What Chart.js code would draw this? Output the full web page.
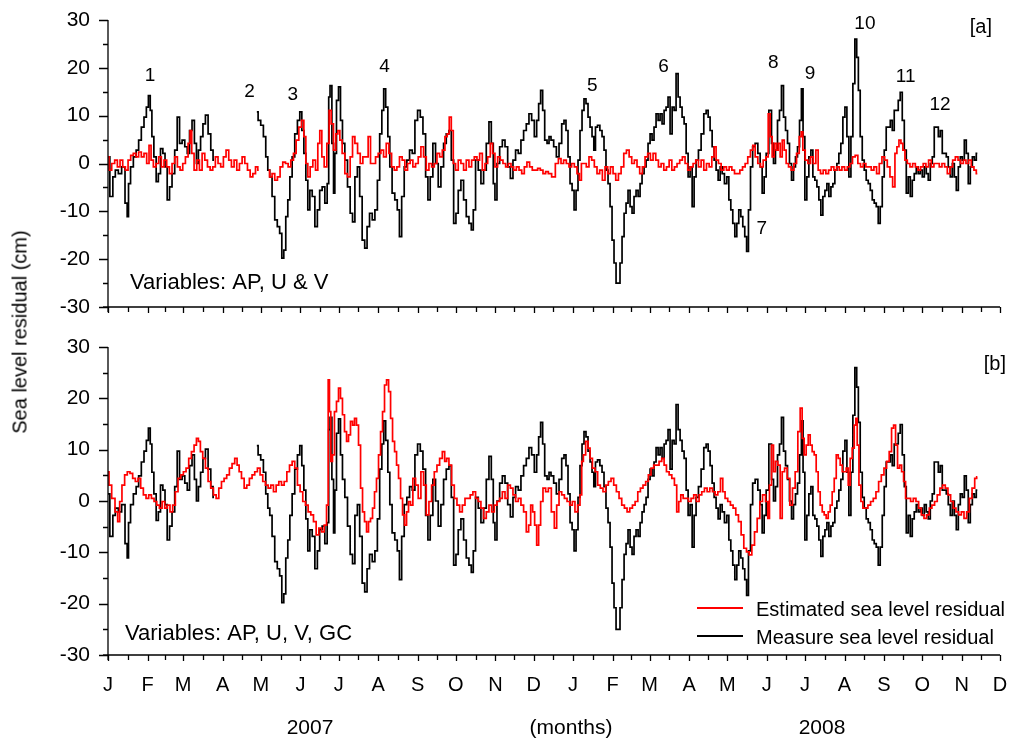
<!DOCTYPE html>
<html>
<head>
<meta charset="utf-8">
<title>Sea level residual</title>
<script src="https://cdn.jsdelivr.net/npm/chart.js@4.4.0/dist/chart.umd.min.js"></script>
<style>
  body { margin: 0; background: #fff; }
  #page { position: relative; width: 1010px; height: 744px; font-family: "Liberation Sans", Arial, sans-serif; color: #000; }
  #panelA { position: absolute; left: 0; top: 0; }
  #panelB { position: absolute; left: 0; top: 330px; }
  .label { position: absolute; white-space: nowrap; transform: translate(-50%, -50%); font-size: 21px; }
  #yTitle { left: 20px; top: 332px; font-size: 20px; transform: translate(-50%, -50%) rotate(-90deg); }
</style>
</head>
<body>
<div id="page">
  <canvas id="panelA" width="1010" height="330"></canvas>
  <canvas id="panelB" width="1010" height="414"></canvas>
  <div class="label" id="yTitle">Sea level residual (cm)</div>
  <div class="label" style="left:310px; top:727px;">2007</div>
  <div class="label" style="left:571px; top:727px;">(months)</div>
  <div class="label" style="left:822px; top:727px;">2008</div>
</div>
<script>
// days since 1 Jan 2007
const monthStarts = [0, 31, 59, 90, 120, 151, 181, 212, 243, 273, 304, 334,
  365, 396, 425, 456, 486, 517, 547, 578, 609, 639, 670, 700];
const monthLetters = ['J', 'F', 'M', 'A', 'M', 'J', 'J', 'A', 'S', 'O', 'N', 'D',
  'J', 'F', 'M', 'A', 'M', 'J', 'J', 'A', 'S', 'O', 'N', 'D'];

// [day, cm]; null marks missing records
const measured = [
  [0,1.4],[2.9,-6.9],[4.7,-2.8],[6.8,-1.4],[9.4,-2.1],[12,-0.7],[14.7,-8.3],[15.4,-11.1],[16.8,-4.2],[18.6,-0.7],
  [21.2,1.4],[23,2.8],[25.1,4.9],[27.2,7.6],[29.3,9.7],[30.9,11.8],[32.5,14.2],[33.8,11.1],[35.1,5.6],[36.9,1.4],
  [38.7,-3.8],[40.3,-2.1],[42.1,3.1],[44,2.1],[45.5,-0.7],[47.4,-7.6],[49.2,-4.9],[51.3,-2.1],[53.4,2.8],[55.2,9.7],
  [57.1,4.2],[59.2,4.9],[61.3,3.5],[63.1,2.1],[64.9,6.9],[67,9],[68.6,4.2],[70.2,0],[71.7,2.8],[73.6,5.6],
  [75.4,8.3],[77.5,10.1],[79.6,6.2],[81.7,2.8],[83.2,0.7],[90,null],
  [116.8,10.8],[118.8,9],[120.9,8],[123,5.6],[124.6,1.4],[126.2,-1.4],[127.7,-2.8],[129.8,-6.9],[131.9,-11.8],[133.8,-13.2],
  [135.6,-14.6],[137.2,-19.8],[138.7,-18.1],[140.3,-11.1],[141.9,-7.6],[143.5,-2.8],[145.5,1.4],[147.6,6.2],[149.7,9],[151.3,10.8],
  [152.9,6.9],[154.5,2.1],[156,-3.5],[157.6,-9.7],[159.2,-5.6],[161.3,-6.9],[163.4,-13.2],[165.2,-9.7],[167,-5.6],[169.1,-4.9],
  [171.2,-8.3],[172.8,-4.2],[173.6,13.9],[174.9,16.3],[176.5,4.2],[177.5,-6.2],[178.5,2.1],[180.1,13.2],[181.7,16],[183.2,9],
  [184.8,4.2],[186.9,0.7],[189,-4.9],[191.1,-10.4],[192.7,-12.2],[194.8,-2.8],[196.6,-0.7],[198.4,-6.9],[200.5,-16],[202.4,-17.7],
  [204.2,-13.2],[206.3,-10.4],[208.4,-11.8],[210.5,-9.7],[212.3,-3.5],[214.1,6.2],[215.7,11.1],[217,15.6],[218.8,11.8],[220.4,5.6],
  [221.9,-0.7],[224,-6.2],[226.1,-7.6],[227.9,-9.7],[229.5,-15.3],[231.4,-6.9],[233.5,-0.7],[235.6,0.7],[237.7,2.8],[239.8,2.1],
  [241.9,9],[244,11.1],[246.1,9.7],[248.2,6.2],[250.3,-2.8],[251.8,-7.6],[253.9,-2.8],[256,4.2],[258.1,0],[260.2,-4.9],
  [262.3,-0.7],[264.4,4.2],[266.5,6.2],[268.6,6.9],[270.2,0.7],[272.3,-12.5],[273.8,-10.4],[275.9,-5.6],[278,-3.5],[280.1,-7.6],
  [282.2,-11.1],[284.3,-12.5],[285.9,-13.9],[287.4,-9.7],[289.5,0.7],[291.6,-1.4],[293.7,-4.2],[295.8,-1.4],[297.9,4.2],[300,8.7],
  [301.6,4.2],[303.1,-4.2],[304.2,-7.6],[306.3,0],[308.4,3.5],[310.5,4.9],[312.6,3.5],[314.7,-0.7],[316.8,-3.1],[318.8,0.7],
  [320.9,2.8],[323,2.1],[325.1,4.9],[327.2,6.9],[329.3,8.3],[331.4,10.4],[333.5,9],[335.6,5.6],[337.2,9],[338.7,12.5],
  [340.3,15.3],[341.9,11.1],[343.5,4.9],[345.6,4.2],[346.6,5.6],[348.7,4.9],[350.8,3.5],[352.9,1.4],[355,4.2],[357.1,8.3],
  [358.6,9],[360.2,6.9],[361.8,1.4],[363.4,-4.2],[365,-5.6],[366.5,-9.7],[368.1,-5.6],[369.6,0.7],[371.2,6.9],[372.8,11.1],
  [374.3,13.5],[375.9,12.5],[377.5,9.7],[379.1,7.6],[380.6,5.6],[381.9,2.8],[383.2,7.6],[385.1,8],[386.9,6.9],[388.5,5.6],
  [390,2.8],[391.6,-1.4],[393.2,-4.2],[394.8,-9],[396.3,-16],[397.9,-20.8],[399.5,-25],[401,-25],[402.6,-20.8],[404.2,-15.3],
  [405.8,-10.4],[407.3,-8.3],[408.9,-5.6],[410.5,-9],[412,-10.4],[413.6,-6.9],[415.2,-5.6],[416.8,-6.9],[418.3,-4.2],[419.9,-2.1],
  [421.5,-0.7],[423,0.7],[424.6,4.2],[426.2,6.2],[427.7,4.9],[429.3,7.6],[430.9,10.4],[432.5,9],[434,10.4],[435.6,8.3],
  [437.2,11.1],[438.7,11.8],[440.3,13.9],[441.9,6.2],[443.5,11.8],[445,11.1],[446.6,18.8],[448.2,13.9],[449.7,11.8],[451.3,9.7],
  [452.9,8.3],[454.5,2.1],[456,-2.8],[457.6,-0.7],[459.2,-9],[460.7,-2.8],[462.3,0.7],[464.4,2.8],[466.5,6.2],[468.6,10.4],
  [470.2,11.1],[471.7,9.7],[473.3,6.9],[474.9,3.5],[476.4,0.7],[478,-1.4],[479.6,-3.5],[481.2,-0.7],[482.7,-2.1],[484.8,-4.2],
  [486.4,-2.8],[488,-7.6],[489.5,-9.7],[491.1,-12.5],[492.7,-15.3],[494.2,-12.5],[495.8,-9.7],[497.4,-11.1],[498.9,-13.2],[500.5,-15.3],
  [501.8,-18.4],[503.4,-9.7],[505,-0.7],[506.8,3.5],[508.9,4.2],[511,2.1],[512.6,-0.7],[514.1,-6.2],[515.7,-2.8],[517.3,2.1],
  [519.9,11.1],[521.5,4.2],[523,0],[524.6,2.8],[526.2,9],[527.7,11.1],[529.3,16.3],[530.9,9.7],[532.5,6.9],[534,4.2],
  [535.6,0],[537.2,-3.5],[538.7,-0.7],[540.3,1.4],[541.9,3.5],[543.5,9],[544.8,15.6],[546.1,5.6],[547.6,-7.6],[549.2,-2.8],
  [550.8,1.4],[552.4,2.8],[553.9,-2.8],[555.5,-3.5],[557.1,-4.9],[558.6,-7.6],[560.2,-10.8],[561.8,-6.9],[563.4,-5.6],[564.9,-4.2],
  [566.5,-6.9],[568.1,-4.9],[569.6,-4.2],[571.2,-1.4],[572.8,0],[574.3,2.1],[575.9,4.2],[577.5,9.7],[579.1,11.8],[580.6,5.6],
  [582.2,-2.8],[583.8,5.6],[585.3,16.7],[586.9,26],[588.2,22.2],[589.5,15.3],[591.1,5.6],[592.7,0.7],[594.2,-1.4],[595.8,-3.5],
  [597.4,-4.2],[599,-5.6],[600.5,-7.6],[602.1,-8.3],[603.7,-9],[605.2,-12.5],[606.8,-9],[608.4,-2.8],[609.9,2.8],[611.5,7.6],
  [613.1,7.6],[614.7,9],[616.2,6.9],[617.8,11.1],[619.4,11.1],[620.9,13.2],[622.5,14.9],[624.1,9],[625.7,2.8],[627.2,-6.2],
  [628.8,-2.8],[630.4,-6.9],[631.9,-3.5],[633.5,-2.1],[635.1,-0.7],[636.6,-2.1],[638.2,-1.4],[639.8,-2.8],[641.4,-0.7],[642.9,-2.1],
  [644.5,-3.5],[646.1,0],[647.6,1.4],[649.2,7.6],[650.8,7.6],[652.4,5.6],[653.9,6.9],[655.5,2.1],[657.1,2.1],[658.6,1.4],
  [660.2,-0.7],[661.8,-2.8],[663.4,0],[664.9,-2.8],[666.5,-5.6],[668.1,-0.7],[669.6,1.4],[671.2,0.7],[672.8,4.9],[674.3,2.1],
  [675.9,-4.2],[677.5,-0.7],[679.1,1.4],[680.6,0.7],[682.2,2.1]
];

// model with air pressure and wind components only
const estimatedA = [
  [0,1.4],[1.6,-1.4],[4.2,0],[6.3,0.7],[8.4,-0.7],[10.5,0.7],[12.6,-0.7],[14.7,-1.4],[16.8,0.7],[18.8,1.7],
  [20.9,2.1],[23,1.4],[25.1,2.4],[27.2,1.4],[29.3,2.1],[31.4,0],[33,3.8],[34.6,0.7],[36.6,-0.7],[38.7,0],
  [40.8,1.4],[42.9,-0.7],[45,0.7],[47.1,-0.7],[49.2,-2.1],[51.3,0],[53.4,1.4],[55.5,-0.7],[57.6,-1.4],[59.7,0],
  [61.8,1.4],[63.9,4.2],[64.9,6.9],[66.5,2.1],[68.6,-1.4],[70.7,0.7],[72.8,-1.4],[74.9,2.1],[77,0.7],[79.1,-0.7],
  [81.2,-1.4],[83.2,-0.7],[85.3,1.4],[87.4,0],[89.5,-0.7],[91.6,1.4],[93.7,2.8],[95.8,0.7],[97.9,-0.7],[100,0.7],
  [102.1,-1.4],[104.2,0],[106.3,1.4],[108.4,0],[110.5,-1.4],[112.6,-2.8],[114.7,-2.1],[116.8,-0.7],[118.3,-1.4],[121,null],
  [125.9,-1.4],[127.7,-2.8],[129.8,-2.1],[131.9,-3.5],[134,-2.8],[136.1,-0.7],[138.2,0.3],[140.3,0],[142.4,-0.7],[144.5,0.7],
  [146.6,2.1],[148.7,4.9],[150.8,7.6],[152.9,9],[154.5,5.6],[156,0],[157.6,-2.8],[159.7,-0.7],[161.8,0.7],[163.9,-1.4],
  [165.4,4.2],[167,6.9],[168.6,1.4],[170.7,-0.7],[172.8,4.2],[174.3,11.1],[175.9,8.3],[178,2.8],[179.6,6.2],[181.2,6.9],
  [182.7,4.9],[184.8,2.1],[186.9,-2.1],[189,-2.8],[191.1,1.4],[192.7,5.6],[194.8,4.2],[196.9,2.1],[199,0],[201,1.4],
  [203.1,1.4],[205.2,5.6],[206.8,0],[208.9,0],[211,1.4],[213.1,2.1],[215.2,2.8],[217.3,1.4],[219.4,4.2],[221.5,2.1],
  [223.6,-0.7],[225.7,-1.4],[227.7,-0.7],[229.8,1.4],[231.9,0.7],[234,-1.4],[236.1,0],[238.2,0.7],[240.3,-0.7],[242.4,0],
  [244.5,1.4],[246.6,3.5],[248.7,1.4],[250.8,-1.4],[252.9,0],[255,-0.7],[257.1,0],[259.2,2.1],[261.3,1.4],[263.4,2.8],
  [265.4,5.6],[267,6.2],[268.6,9.7],[270.2,6.9],[271.7,0],[273.8,-1.4],[275.9,0.7],[278,0],[280.1,-1.4],[282.2,0.7],
  [284.3,-0.7],[286.4,0.7],[288.5,1.4],[290.6,0.7],[292.7,2.1],[294.8,-1.4],[296.9,0],[299,1.4],[301,4.2],[302.6,2.1],
  [304.7,-0.7],[306.8,1.4],[308.9,0.7],[311,0],[313.1,-0.7],[315.2,0],[317.3,-0.7],[319.4,-1.4],[321.5,-0.7],[323.6,-1.4],
  [325.7,-2.1],[327.7,-0.7],[329.8,0.3],[331.9,-0.7],[334,-1.4],[336.1,-1.4],[338.2,-1],[340.3,-1.4],[342.4,-2.1],[344.5,-1.7],
  [346.6,-2.1],[349.7,-2.8],[352.4,0],[354.5,1],[356.5,0],[358.6,0.7],[360.7,0],[362.8,-0.7],[364.9,0],[367,-0.7],
  [369.1,-2.1],[370.7,-3.5],[372.3,0],[374.3,0],[376.4,-0.7],[378.5,1.4],[380.6,0.7],[382.7,-0.7],[384.8,-2.1],[386.9,-1.4],
  [389,-3.5],[391.1,-0.7],[393.2,-2.1],[395.3,-0.7],[397.4,-2.1],[399.5,-3.5],[401.6,-2.1],[403.7,-0.7],[405.8,2.1],[407.9,2.8],
  [410,1.4],[412,0],[414.1,0.7],[416.2,-0.7],[418.3,-2.1],[420.4,-0.7],[422.5,1.4],[424.6,2.1],[426.7,0.7],[428.8,2.1],
  [430.9,0.7],[433,-0.7],[435.1,0],[437.2,-1.4],[439.3,-0.7],[441.4,0.7],[443.5,-1.4],[445.5,-0.7],[447.6,0],[449.7,0.7],
  [451.8,1.4],[453.9,0],[456,-1.4],[458.1,-0.7],[460.2,0],[462.3,0.7],[464.4,-0.7],[466.5,0.7],[468.6,-1.4],[470.7,0],
  [472.8,-0.7],[474.9,1.4],[476.4,3.5],[478,0.7],[480.1,0],[482.2,-1.4],[484.3,-0.7],[486.4,-1.4],[488.5,-0.7],[490.6,-1.4],
  [492.7,-2.1],[494.8,-2.1],[496.9,-1.4],[499,-0.7],[501,0],[503.1,1.4],[505.2,2.8],[506.8,3.8],[508.9,1.4],[511,0],
  [513.1,-0.7],[515.2,0.7],[517.3,1.4],[518.9,10.4],[520.4,5.6],[522,1.4],[523.6,4.2],[525.1,2.8],[526.7,4.2],[528.3,1.4],
  [529.9,4.9],[531.4,2.8],[533,0],[535.1,-0.7],[537.2,-1.4],[539.3,0],[541.4,2.1],[543.5,5.6],[544.5,6.6],[546.1,2.8],
  [548.2,0.7],[550.3,0],[552.4,1.4],[554.5,0],[556.5,2.8],[558.1,-1.4],[560.2,-2.1],[562.3,-1.4],[564.4,-2.1],[566.5,-1.4],
  [568.6,-0.7],[570.7,-1.4],[572.8,-0.7],[574.9,-1.4],[577,-0.7],[579.1,-1.4],[581.2,-0.7],[583.2,0],[585.3,1.4],[587.4,1.7],
  [589.5,0],[591.6,-0.7],[593.7,0],[595.8,-0.7],[597.9,-0.7],[600,-1.4],[602.1,-0.7],[604.2,-2.1],[606.3,0],[608.4,1.4],
  [610.5,0.7],[612.6,-0.7],[614.7,-2.8],[616.8,-4.9],[618.3,2.1],[619.9,3.5],[621.5,4.9],[623,4.2],[624.6,2.8],[626.2,0.7],
  [628.3,0],[630.4,-0.7],[632.5,0],[634.6,-0.7],[636.6,-1.4],[638.7,-0.7],[640.8,0],[642.9,-0.7],[645,0.7],[647.1,-0.7],
  [649.2,0],[651.3,0],[653.4,-0.7],[655.5,0],[657.6,-0.7],[659.7,-2.1],[661.8,-0.7],[663.9,0.7],[666,1.4],[668.1,0.7],
  [670.2,0],[672.3,0.7],[674.3,0],[676.4,0.7],[678.5,-0.7],[680.6,-1.4],[682.2,-2.1]
];

// model with air pressure, wind components and geostrophic current
const estimatedB = [
  [0,5.7],[1.6,3.1],[4.2,0.5],[6.8,-2.1],[8.4,-4],[9.9,-0.1],[12,3.1],[14.1,5.1],[16.2,5.7],[18.3,5.4],
  [20.4,4.4],[22.5,3.8],[24.6,4.4],[26.7,2.5],[28.8,1.2],[30.9,0.5],[33,1.2],[35.1,0.5],[37.2,-0.1],[39.3,-0.8],
  [41.4,-1.4],[43.5,-0.1],[45.5,-1.4],[47.6,-0.8],[49.7,-2.1],[51.8,-0.8],[53.9,1.8],[56,4.4],[58.1,5.1],[60.2,5.7],
  [62.3,6.4],[64.4,8.3],[66.5,9.6],[68.6,10.9],[70.2,12.2],[71.7,11.6],[73.3,9.6],[75.4,8.3],[77.5,6.4],[79.6,3.8],
  [81.7,2.5],[83.8,1.2],[85.9,0.5],[88,2.5],[90.1,3.8],[92.1,4.4],[94.2,5.1],[96.3,6.4],[98.4,7.3],[100.5,8.3],
  [102.1,7],[103.7,5.7],[105.8,4.4],[107.9,2.5],[109.9,3.1],[112,4.4],[114.1,5.1],[116.2,5.7],[118.3,6.4],[120.4,5.1],
  [122.5,3.8],[124.6,3.1],[126.7,2.5],[128.8,3.1],[130.9,1.8],[133,3.1],[135.1,3.8],[137.2,3.1],[139.3,3.8],[141.4,5.7],
  [143.5,7],[145.5,7.7],[147.6,6.4],[149.7,3.1],[151.8,1.8],[153.9,-0.1],[156,-0.8],[158.1,-2.1],[160.2,-2.7],[162.3,-4],
  [164.4,-6.6],[166.5,-5.3],[168.6,-6],[170.7,-4.7],[172.3,-0.8],[173.3,23.6],[174.3,17.4],[175.4,7.7],[176.9,9],[178.5,17.4],
  [180.1,19.4],[181.7,22],[183.2,20],[184.8,16.8],[186.4,13.5],[188,11.6],[189.5,12.9],[191.1,15.5],[192.7,14.8],[194.2,16.1],
  [195.8,14.8],[197.4,10.9],[199,2.5],[200.5,-2.1],[202.1,-4],[203.7,-6],[205.2,-4],[206.8,-3.4],[208.4,-1.4],[209.9,1.8],
  [211.5,4.4],[213.1,9],[214.7,13.5],[216.2,17.4],[217.8,22.6],[219.4,23.6],[221,21.3],[222.5,16.1],[224.1,11.6],[225.7,9.6],
  [227.2,7],[228.8,4.4],[230.4,0.5],[231.9,-2.7],[233.5,-4.7],[235.1,-2.1],[236.6,-0.1],[238.2,-0.8],[240.3,4.4],[242.4,3.1],
  [244.5,0.5],[246.6,5.7],[248.7,3.1],[250.8,-2.7],[252.9,-0.1],[255,3.1],[257.1,5.7],[259.2,7],[261.3,8.3],[263.4,9.6],
  [265,7.7],[266.5,8.3],[268.6,7],[270.7,3.1],[272.8,0.5],[274.9,-0.8],[277,-2.1],[279.1,-0.8],[281.2,0.5],[283.2,0.5],
  [285.3,1.2],[287.4,1.8],[289.5,0.5],[291.6,-0.1],[293.7,-1.4],[295.8,-3.4],[297.9,-2.1],[300,-0.8],[302.1,-2.1],[304.2,-0.8],
  [306.3,-0.1],[308.4,0.5],[310.5,1.8],[312.6,0.5],[314.7,3.1],[316.8,2.5],[318.8,1.2],[320.9,-0.1],[323,0.5],[325.1,-0.8],
  [327.2,-2.1],[329.3,-6],[330.9,-4.7],[332.5,-0.8],[334,-2.1],[335.6,-4.7],[337.2,-8.6],[338.7,-4.7],[340.3,-0.1],[342.4,2.5],
  [344.5,1.8],[346.6,2.5],[349.2,-2.1],[351.3,-5.3],[352.9,-0.8],[355,1.8],[357.1,1.2],[359.2,0.5],[361.3,-0.1],[363.4,-0.8],
  [365.4,-0.1],[367.5,-2.1],[369.6,-0.8],[371.2,1.2],[372.3,7.7],[373.8,9],[375.9,11.6],[377.5,10.3],[379.1,8.3],[381.2,6.4],
  [383.2,5.7],[385.3,3.1],[387.4,2.5],[389.5,1.8],[391.6,3.1],[393.7,3.8],[395.8,4.4],[397.9,3.1],[400,1.8],[402.1,0.5],
  [404.2,-0.8],[406.3,-1.4],[408.4,-2.1],[410.5,-1.4],[412.6,-0.8],[414.7,-0.1],[416.8,1.8],[418.8,2.5],[420.9,3.1],[423,3.8],
  [425.1,5.1],[427.2,6.4],[429.3,7],[431.4,7],[433.5,7.7],[435.6,8.3],[437.2,7],[439.3,5.7],[441.4,5.1],[443.5,4.4],
  [445.5,3.1],[447.1,-2.1],[448.7,-0.1],[450.3,1.2],[452.4,0.5],[454.5,0.5],[456.5,-0.1],[458.6,0.5],[460.7,1.2],[462.8,-0.1],
  [464.9,1.2],[467,1.8],[469.1,2.5],[471.2,1.8],[473.3,2.5],[475.4,1.8],[477.5,1.2],[479.6,1.8],[481.7,4.4],[483.2,1.8],
  [485.3,0.5],[487.4,-0.1],[489.5,-0.8],[491.6,-1.4],[493.7,-2.7],[495.8,-4],[497.9,-6.6],[500,-9.2],[502.1,-9.9],[504.2,-10.5],
  [506.3,-8.6],[508.4,-6],[510.5,-3.4],[512.6,-0.1],[514.7,1.2],[517.3,-0.1],[518.3,-3.4],[519.9,3.1],[521.5,10.9],[523,5.7],
  [524.6,7.7],[526.7,7],[528.3,-3.4],[529.9,5.7],[532,6.4],[534,4.4],[536.1,-0.8],[538.2,2.5],[540.3,5.7],[542.4,13.5],
  [544,18.1],[545.5,12.2],[547.1,9],[548.7,10.9],[550.3,12.9],[551.8,10.9],[553.4,9.6],[555,9],[556.5,5.7],[558.1,1.8],
  [559.7,-0.8],[561.3,-2.1],[562.8,-2.7],[564.4,-3.4],[566,-2.1],[567.5,-0.8],[569.1,1.8],[570.7,4.4],[572.3,9],[573.8,8.3],
  [575.4,7],[577,5.7],[578.5,5.7],[580.1,6.4],[581.7,3.1],[583.2,8.3],[584.8,10.3],[586.4,14.8],[587.4,16.1],[588.5,10.9],
  [590.1,3.1],[591.6,-0.1],[593.2,-1.4],[595.3,-1.4],[597.4,-0.8],[599.5,-0.1],[601.6,0.5],[603.7,1.8],[605.8,3.8],[607.9,5.1],
  [610,6.4],[612,7.7],[614.1,9.6],[615.7,14.2],[617.3,14.8],[618.8,10.9],[620.4,6.4],[622,7],[623.6,5.7],[625.1,3.8],
  [626.7,0.5],[628.8,0.5],[630.9,-0.1],[633,0.5],[635.1,-0.1],[637.2,-1.4],[639.3,-2.7],[641.4,-3.4],[643.5,-2.7],[645.5,-1.4],
  [647.6,-0.8],[649.7,-0.1],[651.8,1.2],[653.9,2.5],[656,3.1],[658.1,2.5],[660.2,1.2],[662.3,-0.1],[664.4,-1.4],[666.5,-2.1],
  [668.6,-2.7],[670.7,-2.1],[672.8,-3.4],[674.9,-2.1],[677,0.5],[679.1,2.5],[681.2,4.4],[682.2,4.7]
];

// numbered surge events in panel [a], placed at [day, cm]
const eventNames = ['1', '2', '3', '4', '5', '6', '7', '8', '9', '10', '11', '12'];
const eventDays = [33, 111, 145, 217, 380, 436, 513, 522, 551, 594, 626, 653];
const eventCm = [18.4, 14.9, 14.4, 20.3, 16.3, 20.3, -13.6, 21.1, 18.8, 29.3, 18.2, 12.3];

const FONT = '"Liberation Sans", Arial, sans-serif';
const toPoints = pairs => pairs.map(([x, y]) => ({ x, y }));

// axis lines and tick marks, drawn by hand so minor ticks can be shorter
const frame = {
  id: 'frame',
  afterDatasetsDraw(chart) {
    const { ctx, chartArea: a, scales: { x, y } } = chart;
    ctx.save();
    ctx.strokeStyle = '#000';
    ctx.lineWidth = 1.3;
    ctx.beginPath();
    ctx.moveTo(a.left, a.top);
    ctx.lineTo(a.left, a.bottom + 5);
    ctx.moveTo(a.left - 5, a.bottom);
    ctx.lineTo(a.right, a.bottom);
    for (let v = -30; v <= 30; v += 5) {
      const py = Math.round(y.getPixelForValue(v)) + 0.5;
      const len = v % 10 === 0 ? 9 : 5;
      ctx.moveTo(a.left - len, py);
      ctx.lineTo(a.left, py);
    }
    monthStarts.forEach((d, i) => {
      const px = Math.round(x.getPixelForValue(d)) + 0.5;
      ctx.moveTo(px, a.bottom);
      ctx.lineTo(px, a.bottom + 6);
      if (i < monthStarts.length - 1) {
        const mid = Math.round(x.getPixelForValue((d + monthStarts[i + 1]) / 2)) + 0.5;
        ctx.moveTo(mid, a.bottom);
        ctx.lineTo(mid, a.bottom + 5);
      }
    });
    ctx.stroke();
    ctx.restore();
  }
};

// panel tag, model description, event numbers and legend
const notes = {
  id: 'notes',
  afterDraw(chart, args, opts) {
    const { ctx, chartArea: a, scales: { x, y } } = chart;
    ctx.save();
    ctx.fillStyle = '#000';
    ctx.textBaseline = 'middle';

    ctx.font = '20px ' + FONT;
    ctx.textAlign = 'right';
    ctx.fillText(opts.tag, a.right + opts.tagDx, a.top + opts.tagDy);

    ctx.font = '22px ' + FONT;
    ctx.textAlign = 'left';
    ctx.fillText(opts.variables, a.left + opts.varDx, a.bottom - opts.varDy);

    if (opts.events) {
      ctx.font = '19px ' + FONT;
      ctx.textAlign = 'center';
      eventNames.forEach((t, i) => {
        ctx.fillText(t, x.getPixelForValue(eventDays[i]), y.getPixelForValue(eventCm[i]));
      });
    }

    if (opts.legend) {
      ctx.font = '20px ' + FONT;
      ctx.textAlign = 'left';
      chart.data.datasets.forEach((ds, i) => {
        const ly = a.bottom - 47 + i * 28;
        ctx.strokeStyle = ds.borderColor;
        ctx.lineWidth = 2;
        ctx.beginPath();
        ctx.moveTo(a.left + 589, ly);
        ctx.lineTo(a.left + 635, ly);
        ctx.stroke();
        ctx.fillText(ds.label, a.left + 648, ly + 2);
      });
    }
    ctx.restore();
  }
};

function makePanel(canvasId, estimated, showMonths, xHeight, padTop, noteOpts) {
  return new Chart(document.getElementById(canvasId), {
    type: 'line',
    data: {
      datasets: [
        {
          label: 'Estimated sea level residual',
          data: toPoints(estimated),
          borderColor: '#ff0000',
          borderWidth: 1.7,
          stepped: 'middle',
          order: 0
        },
        {
          label: 'Measure sea level residual',
          data: toPoints(measured),
          borderColor: '#000000',
          borderWidth: 1.7,
          stepped: 'middle',
          order: 1
        }
      ]
    },
    options: {
      responsive: false,
      animation: false,
      events: [],
      parsing: false,
      spanGaps: false,
      elements: { point: { radius: 0 }, line: { tension: 0 } },
      layout: { padding: { top: padTop, right: 10, left: 0, bottom: 0 } },
      plugins: {
        legend: { display: false },
        tooltip: { enabled: false },
        notes: noteOpts
      },
      scales: {
        x: {
          type: 'linear',
          min: 0,
          max: 700,
          // tick marks come from the frame plugin; tickLength only sets the label gap
          grid: { display: false, drawTicks: true, tickLength: 18 },
          border: { display: false },
          afterBuildTicks: s => { s.ticks = monthStarts.map(v => ({ value: v })); },
          afterFit: s => { s.height = xHeight; },
          ticks: {
            display: showMonths,
            autoSkip: false,
            maxRotation: 0,
            padding: 0,
            color: '#000',
            font: { family: FONT, size: 20 },
            callback: (v, i) => monthLetters[i]
          }
        },
        y: {
          min: -30,
          max: 30,
          grid: { display: false, drawTicks: true, tickLength: 18 },
          border: { display: false },
          afterFit: s => { s.width = 108; },
          ticks: {
            stepSize: 10,
            padding: 0,
            color: '#000',
            font: { family: FONT, size: 21 }
          }
        }
      }
    },
    plugins: [frame, notes]
  });
}

makePanel('panelA', estimatedA, false, 23, 20, {
  tag: '[a]', tagDx: -8, tagDy: 7,
  variables: 'Variables: AP, U & V', varDx: 22, varDy: 24,
  events: true, legend: false
});

makePanel('panelB', estimatedB, true, 89, 17, {
  tag: '[b]', tagDx: 6, tagDy: 17,
  variables: 'Variables: AP, U, V, GC', varDx: 17, varDy: 21,
  events: false, legend: true
});
</script>
</body>
</html>
